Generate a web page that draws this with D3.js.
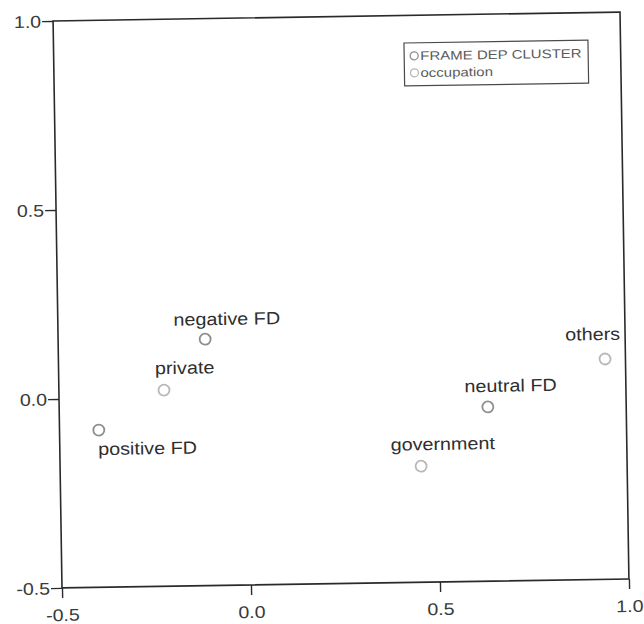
<!DOCTYPE html>
<html>
<head>
<meta charset="utf-8">
<script src="https://cdn.jsdelivr.net/npm/d3@7"></script>
<style>
  body { margin: 0; background: #fff; }
  svg text { font-family: "Liberation Sans", Arial, sans-serif; }
</style>
</head>
<body>
<svg id="chart" width="644" height="624"></svg>
<script>
// points
var names = ["negative FD", "positive FD", "neutral FD", "private", "others", "government"];
var groups = ["FRAME DEP CLUSTER", "FRAME DEP CLUSTER", "FRAME DEP CLUSTER", "occupation", "occupation", "occupation"];
var xValues = [-0.111, -0.396, 0.634, -0.222, 0.946, 0.455];
var yValues = [0.152, -0.084, -0.039, 0.019, 0.083, -0.193];
var legendNames = ["FRAME DEP CLUSTER", "occupation"];
var xTicks = [-0.5, 0.0, 0.5, 1.0];
var yTicks = [-0.5, 0.0, 0.5, 1.0];

var svg = d3.select("#chart"),
    margin = { top: 16.5, left: 57.5, bottom: 40.5, right: 19.5 },
    width = +svg.attr("width"),
    height = +svg.attr("height");

// the scanned page sits a little crooked
var g = svg.append("g").attr("transform", "rotate(-0.9, 341, 300)");

var x = d3.scaleLinear().domain([-0.5, 1.0]).range([margin.left, width - margin.right]);
var y = d3.scaleLinear().domain([-0.5, 1.0]).range([height - margin.bottom, margin.top]);

var color = d3.scaleOrdinal().domain(legendNames).range(["#8e8e8e", "#b8b8b8"]);

// plain hyphen like SPSS, not the unicode minus
var fmt = d => d.toFixed(1);

// widen text a bit, like the scan
function stretch(sel, k) {
    sel.each(function () {
        var len = this.getComputedTextLength();
        d3.select(this).attr("textLength", len * k).attr("lengthAdjust", "spacingAndGlyphs");
    });
}

// frame
g.append("rect")
    .attr("x", x(-0.5)).attr("y", y(1.0))
    .attr("width", x(1.0) - x(-0.5)).attr("height", y(-0.5) - y(1.0))
    .attr("fill", "none").attr("stroke", "#2a2a2a").attr("stroke-width", 1.6);

// axes
var yAxis = g.append("g")
    .attr("transform", `translate(${margin.left},0)`)
    .call(d3.axisLeft(y).tickValues(yTicks).tickFormat(fmt).tickSize(11).tickPadding(1));

var xAxis = g.append("g")
    .attr("transform", `translate(0,${height - margin.bottom})`)
    .call(d3.axisBottom(x).tickValues(xTicks).tickFormat(fmt).tickSize(10).tickPadding(11));

g.selectAll(".domain").remove();
g.selectAll(".tick line").attr("stroke", "#2a2a2a").attr("stroke-width", 1.4);
g.selectAll(".tick text").attr("font-size", 17).attr("fill", "#3a3a3a");
yAxis.selectAll(".tick text").attr("dy", "0.35em");
stretch(g.selectAll(".tick text"), 1.15);

// markers
var points = names.map((n, i) => ({ name: n, group: groups[i], x: xValues[i], y: yValues[i] }));

g.selectAll("circle.pt")
    .data(points)
    .enter().append("circle")
    .attr("class", "pt")
    .attr("cx", d => x(d.x))
    .attr("cy", d => y(d.y))
    .attr("r", 5.5)
    .attr("fill", "none")
    .attr("stroke", d => color(d.group))
    .attr("stroke-width", 1.8);

// label placement, as SPSS put them
var labelShift = {
    "negative FD": [22, -14, "middle"],
    "positive FD": [-1, 25, "start"],
    "neutral FD": [23, -15, "middle"],
    "private": [21, -16, "middle"],
    "others": [-12, -19, "middle"],
    "government": [22, -16, "middle"]
};

var labels = g.selectAll("text.lbl")
    .data(points)
    .enter().append("text")
    .attr("class", "lbl")
    .attr("x", d => x(d.x) + labelShift[d.name][0])
    .attr("y", d => y(d.y) + labelShift[d.name][1])
    .attr("text-anchor", d => labelShift[d.name][2])
    .attr("font-size", 17.5)
    .attr("fill", "#2e2e2e")
    .text(d => d.name);
stretch(labels, 1.13);

// legend
var legend = g.append("g").attr("transform", "translate(408,44)");

legend.append("rect")
    .attr("width", 184).attr("height", 43)
    .attr("fill", "#fff").attr("stroke", "#4a4a4a").attr("stroke-width", 1.2);

var item = legend.selectAll("g")
    .data(legendNames)
    .enter().append("g")
    .attr("transform", (d, i) => `translate(0,${13 + i * 17})`);

item.append("circle")
    .attr("cx", 10).attr("cy", 0).attr("r", 4)
    .attr("fill", "none").attr("stroke", d => color(d)).attr("stroke-width", 1.3);

var legendText = item.append("text")
    .attr("x", 16).attr("dy", "0.35em")
    .attr("font-size", 12.5)
    .attr("fill", "#5a5a5a")
    .text(d => d);
stretch(legendText, 1.2);
</script>
</body>
</html>
